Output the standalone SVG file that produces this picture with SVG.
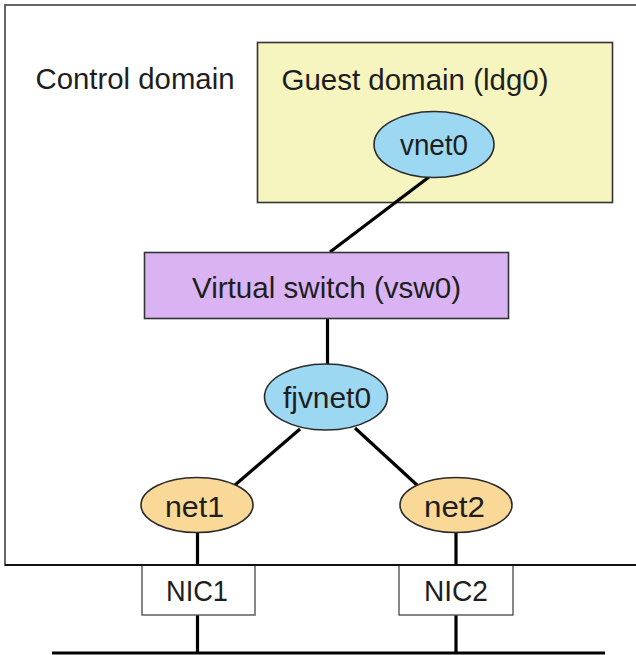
<svg xmlns="http://www.w3.org/2000/svg" width="636" height="655" viewBox="0 0 636 655">
<style>
.lbl{font-family:"Liberation Sans",Arial,sans-serif;font-size:29px;fill:#1e1e1e}
.box{stroke:#333;stroke-width:1.6}
.ell{stroke:#2a2a2a;stroke-width:1.6}
.conn line{stroke:#000;stroke-width:3.2;stroke-linecap:butt}
</style>
<rect width="636" height="655" fill="#fff"/>
<g id="control-domain">
<rect x="5" y="5" width="660" height="560" fill="#fff" stroke="#555" stroke-width="1.8"/>
<text class="lbl" x="35.5" y="89" textLength="199" lengthAdjust="spacingAndGlyphs">Control domain</text>
</g>
<g id="guest-domain">
<rect class="box" x="257.5" y="42.5" width="355" height="160" fill="#f6f4bf"/>
<text class="lbl" x="281.5" y="90" textLength="267" lengthAdjust="spacingAndGlyphs">Guest domain (ldg0)</text>
</g>
<g class="conn" id="connectors">
<line x1="429" y1="177" x2="330" y2="252"/>
<line x1="327.5" y1="319" x2="327.5" y2="365"/>
<line x1="300" y1="429" x2="235" y2="485"/>
<line x1="355" y1="428" x2="417" y2="485"/>
<line x1="197.5" y1="532" x2="197.5" y2="565"/>
<line x1="456" y1="532" x2="456" y2="565"/>
<line x1="197.5" y1="615" x2="197.5" y2="653"/>
<line x1="456" y1="615" x2="456" y2="653"/>
<line x1="52" y1="653" x2="605" y2="653"/>
</g>
<g id="vnet0">
<ellipse class="ell" cx="434" cy="144.5" rx="60" ry="33" fill="#9dd8f3"/>
<text class="lbl" x="400" y="155" textLength="68" lengthAdjust="spacingAndGlyphs">vnet0</text>
</g>
<g id="vsw0">
<rect class="box" x="144.5" y="252.5" width="364" height="66" fill="#dab4f2"/>
<text class="lbl" x="192" y="297.5" textLength="269" lengthAdjust="spacingAndGlyphs">Virtual switch (vsw0)</text>
</g>
<g id="fjvnet0">
<ellipse class="ell" cx="326" cy="397" rx="61.5" ry="33" fill="#9dd8f3"/>
<text class="lbl" x="283" y="408" textLength="88" lengthAdjust="spacingAndGlyphs">fjvnet0</text>
</g>
<g id="net1">
<ellipse class="ell" cx="197" cy="505" rx="56" ry="27.5" fill="#f9d898"/>
<text class="lbl" x="165" y="517" textLength="59" lengthAdjust="spacingAndGlyphs">net1</text>
</g>
<g id="net2">
<ellipse class="ell" cx="456" cy="505" rx="56" ry="27.5" fill="#f9d898"/>
<text class="lbl" x="424" y="517" textLength="61" lengthAdjust="spacingAndGlyphs">net2</text>
</g>
<g id="nic1">
<rect x="142" y="565" width="113" height="50" fill="#fff" stroke="#555" stroke-width="1.4"/>
<text class="lbl" x="166" y="601" textLength="62" lengthAdjust="spacingAndGlyphs">NIC1</text>
</g>
<g id="nic2">
<rect x="399" y="565" width="114" height="50" fill="#fff" stroke="#555" stroke-width="1.4"/>
<text class="lbl" x="424" y="601" textLength="64" lengthAdjust="spacingAndGlyphs">NIC2</text>
</g>
<line x1="5" y1="565" x2="636" y2="565" stroke="#111" stroke-width="1.8"/>
</svg>
